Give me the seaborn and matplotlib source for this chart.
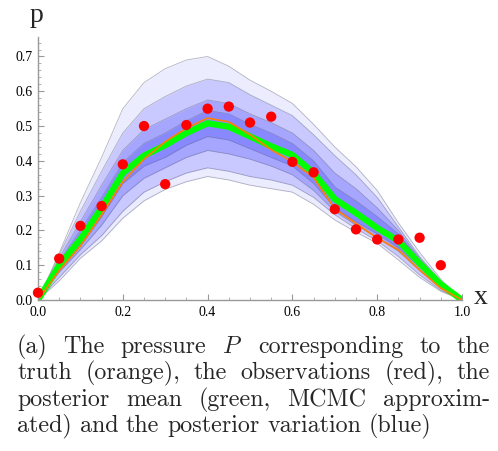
import numpy as np
import matplotlib
matplotlib.use("Agg")
import matplotlib.pyplot as plt
from matplotlib.ticker import MultipleLocator, FormatStrFormatter
import seaborn as sns

# ---------------- data ----------------
x_grid = [0.0, 0.05, 0.1, 0.15, 0.2, 0.25, 0.3, 0.35, 0.4, 0.45, 0.5,
          0.55, 0.6, 0.65, 0.7, 0.75, 0.8, 0.85, 0.9, 0.95, 1.0]

truth = [0, 0.085, 0.155, 0.245, 0.34, 0.405, 0.455, 0.494, 0.523, 0.512, 0.475,
         0.432, 0.397, 0.352, 0.262, 0.22, 0.178, 0.144, 0.086, 0.034, 0]

post_mean = [0, 0.10, 0.175, 0.265, 0.365, 0.415, 0.445, 0.48, 0.508, 0.498, 0.47,
             0.442, 0.417, 0.365, 0.29, 0.25, 0.207, 0.17, 0.105, 0.045, 0]

obs_x = [0.0, 0.05, 0.1, 0.15, 0.2, 0.25, 0.3, 0.35, 0.4, 0.45,
         0.5, 0.55, 0.6, 0.65, 0.7, 0.75, 0.8, 0.85, 0.9, 0.95]
obs_y = [0.021, 0.119, 0.213, 0.27, 0.39, 0.50, 0.333, 0.503, 0.55, 0.556,
         0.51, 0.527, 0.397, 0.367, 0.261, 0.203, 0.174, 0.174, 0.179, 0.10]

# posterior variation envelopes (outer -> inner)
upper_0 = [0, 0.135, 0.28, 0.41, 0.55, 0.625, 0.665, 0.69, 0.70, 0.672, 0.632,
           0.60, 0.565, 0.505, 0.44, 0.383, 0.315, 0.222, 0.137, 0.06, 0]
lower_0 = [0, 0.055, 0.12, 0.17, 0.235, 0.285, 0.318, 0.34, 0.355, 0.345, 0.33,
           0.32, 0.31, 0.275, 0.23, 0.195, 0.163, 0.115, 0.065, 0.025, 0]
upper_1 = [0, 0.13, 0.255, 0.37, 0.48, 0.55, 0.585, 0.615, 0.635, 0.625, 0.59,
           0.56, 0.53, 0.475, 0.415, 0.36, 0.295, 0.21, 0.125, 0.055, 0]
lower_1 = [0, 0.065, 0.13, 0.185, 0.255, 0.31, 0.34, 0.365, 0.38, 0.37, 0.355,
           0.345, 0.33, 0.295, 0.245, 0.205, 0.17, 0.125, 0.072, 0.028, 0]
upper_2 = [0, 0.12, 0.225, 0.33, 0.43, 0.49, 0.52, 0.55, 0.575, 0.565, 0.535,
           0.51, 0.48, 0.43, 0.365, 0.32, 0.265, 0.20, 0.12, 0.05, 0]
lower_2 = [0, 0.08, 0.145, 0.215, 0.30, 0.35, 0.38, 0.41, 0.43, 0.42, 0.405,
           0.385, 0.36, 0.315, 0.255, 0.215, 0.18, 0.14, 0.085, 0.035, 0]
upper_3 = [0, 0.11, 0.20, 0.295, 0.395, 0.45, 0.48, 0.515, 0.545, 0.535, 0.505,
           0.48, 0.45, 0.40, 0.325, 0.285, 0.24, 0.19, 0.115, 0.048, 0]
lower_3 = [0, 0.09, 0.155, 0.24, 0.335, 0.385, 0.41, 0.445, 0.47, 0.46, 0.435,
           0.41, 0.385, 0.335, 0.265, 0.225, 0.19, 0.15, 0.095, 0.04, 0]

y_ticks = [0.0, 0.1, 0.2, 0.3, 0.4, 0.5, 0.6, 0.7]
x_ticks = [0.0, 0.2, 0.4, 0.6, 0.8, 1.0]

caption_lines = [
    ["(a)", "The", "pressure", "$P$", "corresponding", "to", "the"],
    ["truth", "(orange),", "the", "observations", "(red),", "the"],
    ["posterior", "mean", "(green,", "MCMC", "approxim-"],
    ["ated)", "and", "the", "posterior", "variation", "(blue)"],
]

# ---------------- figure ----------------
sns.set_style("white")
plt.rcParams["font.family"] = ["Liberation Serif", "DejaVu Serif"]
plt.rcParams["mathtext.fontset"] = "cm"

W, H = 498, 451
fig = plt.figure(figsize=(W / 100, H / 100), dpi=100)
ax = fig.add_axes([38 / W, 1 - 300 / H, 424 / W, 263 / H])
ax.set_facecolor("none")

bands = [(lower_0, upper_0, 0.10), (lower_1, upper_1, 0.22),
         (lower_2, upper_2, 0.28), (lower_3, upper_3, 0.32)]
band_color = (0.3, 0.3, 1.0)
edge_color = (0.42, 0.42, 0.52)
for lo, up, a in bands:
    ax.fill_between(x_grid, lo, up, color=band_color, alpha=a, lw=0)
    sns.lineplot(x=x_grid, y=up, ax=ax, color=edge_color, lw=0.6, alpha=0.5)
    sns.lineplot(x=x_grid, y=lo, ax=ax, color=edge_color, lw=0.6, alpha=0.5)

sns.lineplot(x=x_grid, y=post_mean, ax=ax, color=(0.0, 1.0, 0.0), lw=4.5)
sns.lineplot(x=x_grid, y=truth, ax=ax, color=(1.0, 0.5, 0.0), lw=1.2)
sns.scatterplot(x=obs_x, y=obs_y, ax=ax, color=(1.0, 0.0, 0.0), s=55,
                edgecolor="none", zorder=5, clip_on=False)

ax.set_xlim(0, 1.0)
ax.set_ylim(0, 0.756)
for s in ["top", "right"]:
    ax.spines[s].set_visible(False)
for s in ["left", "bottom"]:
    ax.spines[s].set_color((0.6, 0.6, 0.6))
    ax.spines[s].set_linewidth(1.0)

ax.set_xticks(x_ticks)
ax.set_yticks(y_ticks)
ax.xaxis.set_major_formatter(FormatStrFormatter("%.1f"))
ax.yaxis.set_major_formatter(FormatStrFormatter("%.1f"))
ax.xaxis.set_minor_locator(MultipleLocator(0.05))
ax.yaxis.set_minor_locator(MultipleLocator(0.02))
ax.tick_params(which="major", direction="in", length=4, width=0.8,
               color=(0.6, 0.6, 0.6), labelsize=10, pad=4, labelcolor="black")
ax.tick_params(which="minor", direction="in", length=2.2, width=0.6,
               color=(0.65, 0.65, 0.65))
ax.tick_params(axis="x", which="both", top=False, bottom=True)
ax.tick_params(axis="y", which="both", right=False, left=True)

fig.text(37 / W, 1 - 15 / H, "p", fontsize=20, ha="center", va="center",
         family="Liberation Serif")
fig.text(481 / W, 1 - 298 / H, "x", fontsize=20, ha="center", va="center",
         family="Liberation Serif")

# ---------------- justified caption ----------------
left_px, right_px = 17, 490
line_y = [347, 373, 400, 426]
fig.canvas.draw()
renderer = fig.canvas.get_renderer()
for i, words in enumerate(caption_lines):
    texts = []
    for w in words:
        t = fig.text(0, 1 - line_y[i] / H, w, fontsize=17.3, family="cmr10",
                     ha="left", va="center")
        texts.append(t)
    widths = [t.get_window_extent(renderer).width for t in texts]
    if i < len(caption_lines) - 1:
        gap = (right_px - left_px - sum(widths)) / (len(words) - 1)
    else:
        gap = 7.8
    xpos = left_px
    for t, wd in zip(texts, widths):
        t.set_x(xpos / W)
        xpos += wd + gap

fig.savefig("out.png", dpi=100)
